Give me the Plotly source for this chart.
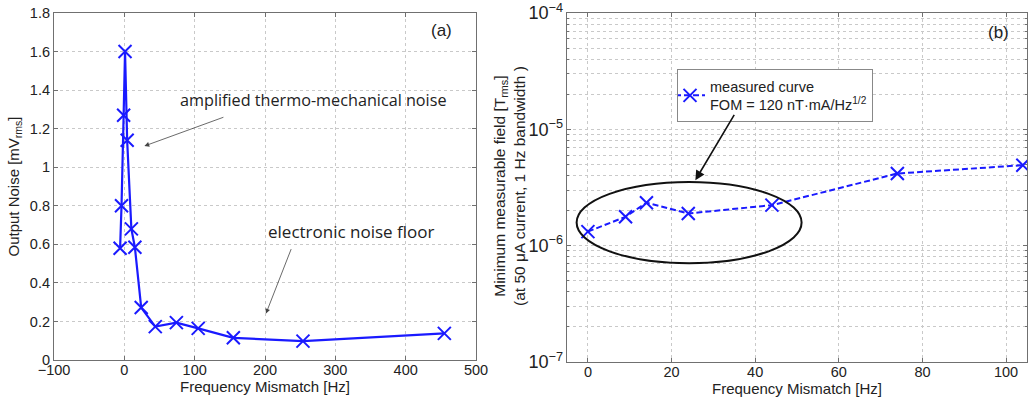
import plotly.graph_objects as go

# ---- data: panel (a) ----
freq_a = [-6, -4, -1, 1, 4, 10, 15, 24, 44, 74, 105, 155, 254, 455]
noise_a = [0.58, 0.80, 1.27, 1.60, 1.14, 0.68, 0.585, 0.272, 0.173, 0.194, 0.164, 0.115, 0.098, 0.138]

# ---- data: panel (b) ----
freq_b = [0, 9, 14, 24, 44, 74, 104]
field_b = [1.32e-6, 1.77e-6, 2.34e-6, 1.89e-6, 2.23e-6, 4.17e-6, 4.92e-6]

W, H = 1028, 405
BLUE = "#1a1aff"
GRID = "#c9c9c9"
AXC = "#707070"
TICKFONT = dict(family="Liberation Sans, Arial", size=14.5, color="#222")
TITLEFONT = dict(family="Liberation Sans, Arial", size=15, color="#222")

fig = go.Figure()
fig.add_trace(go.Scatter(
    x=freq_a, y=noise_a, mode="lines+markers", xaxis="x", yaxis="y",
    line=dict(color=BLUE, width=2.2),
    marker=dict(symbol="x-thin", size=13, line=dict(color=BLUE, width=2)),
    showlegend=False))
fig.add_trace(go.Scatter(
    x=freq_b, y=field_b, mode="lines+markers", xaxis="x2", yaxis="y2",
    name="measured curve<br>FOM = 120 nT·mA/Hz<sup>1/2</sup>",
    line=dict(color=BLUE, width=2, dash="6px,3px"),
    marker=dict(symbol="x-thin", size=13, line=dict(color=BLUE, width=2)),
    showlegend=True))

ax_common = dict(showline=True, linecolor=AXC, linewidth=1.2, mirror="ticks",
                 ticks="inside", ticklen=4, tickcolor=AXC,
                 showgrid=True, gridcolor=GRID, griddash="dot", gridwidth=1,
                 zeroline=False, tickfont=TICKFONT, automargin=False)

fig.update_layout(
    width=W, height=H, paper_bgcolor="white", plot_bgcolor="white",
    margin=dict(l=0, r=0, t=0, b=0),
    xaxis=dict(domain=[54/W, 476/W], range=[-100, 500], dtick=100, ticklabelstandoff=-4,
               title=dict(text="Frequency Mismatch [Hz]", font=TITLEFONT, standoff=0),
               anchor="y", **ax_common),
    yaxis=dict(domain=[1-360/H, 1-13/H], range=[0, 1.8], dtick=0.2,
               title=dict(text="Output Noise [mV<sub>rms</sub>]", font=TITLEFONT, standoff=6),
               anchor="x", **ax_common),
    xaxis2=dict(domain=[567/W, 1027/W], range=[-5, 105], dtick=20, ticklabelstandoff=-4,
                title=dict(text="Frequency Mismatch [Hz]", font=TITLEFONT, standoff=0),
                anchor="y2", **ax_common),
    yaxis2=dict(domain=[1-362/H, 1-13/H], type="log", range=[-7, -4], dtick=1,
                exponentformat="power",
                minor=dict(dtick="D1", showgrid=True, gridcolor=GRID, griddash="dot",
                           ticks="inside", ticklen=2, tickcolor=AXC),
                anchor="x2", **ax_common),
    legend=dict(x=677/W, y=1-69/H, xanchor="left", yanchor="top",
                bgcolor="white", bordercolor="#888", borderwidth=1,
                font=dict(family="Liberation Sans, Arial", size=14.5, color="#222"),
                itemwidth=30, tracegroupgap=0, indentation=-8),
)

ann = []
# right panel y-axis title (two lines)
ann.append(dict(text="Minimum measurable field [T<sub>rms</sub>]<br>(at 50 μA current, 1 Hz bandwidth )",
                x=509/W, y=1-186/H, xref="paper", yref="paper", textangle=-90,
                showarrow=False, xanchor="center", yanchor="middle",
                font=dict(family="Liberation Sans, Arial", size=15.5, color="#222")))
ann.append(dict(text="amplified thermo-mechanical noise", x=77, y=1.35, xref="x", yref="y",
                xanchor="left", yanchor="middle", showarrow=False,
                font=dict(family="Open Sans", size=16.2, color="#222")))
ann.append(dict(text="", x=28.6, y=1.11, ax=143, ay=1.262, xref="x", yref="y",
                axref="x", ayref="y", showarrow=True, arrowhead=2, arrowsize=1.2,
                arrowwidth=0.8, arrowcolor="#444"))
ann.append(dict(text="electronic noise floor", x=201, y=0.665, xref="x", yref="y",
                xanchor="left", yanchor="middle", showarrow=False,
                font=dict(family="Open Sans", size=17, color="#222")))
ann.append(dict(text="", x=201.4, y=0.241, ax=238, ay=0.583, xref="x", yref="y",
                axref="x", ayref="y", showarrow=True, arrowhead=2, arrowsize=1.2,
                arrowwidth=0.8, arrowcolor="#444"))
ann.append(dict(text="(a)", x=451, y=1.707, xref="x", yref="y", showarrow=False,
                font=dict(family="Liberation Sans, Arial", size=17, color="#222")))
ann.append(dict(text="(b)", x=98.3, y=-4.169, xref="x2", yref="y2", showarrow=False,
                font=dict(family="Liberation Sans, Arial", size=17, color="#222")))
ann.append(dict(text="", x=25.7, y=-5.437, ax=35.2, ay=-4.863, xref="x2", yref="y2",
                axref="x2", ayref="y2", showarrow=True, arrowhead=2, arrowsize=1.2,
                arrowwidth=1.6, arrowcolor="#111"))
fig.update_layout(annotations=ann)

fig.add_shape(type="circle", xref="x2", yref="y2",
              x0=-2.7, x1=51.1, y0=10**-6.151, y1=10**-5.452,
              line=dict(color="#111", width=2))

fig.write_html("out.html", config={"displayModeBar": False},
               post_script="document.body.style.margin='0';")
